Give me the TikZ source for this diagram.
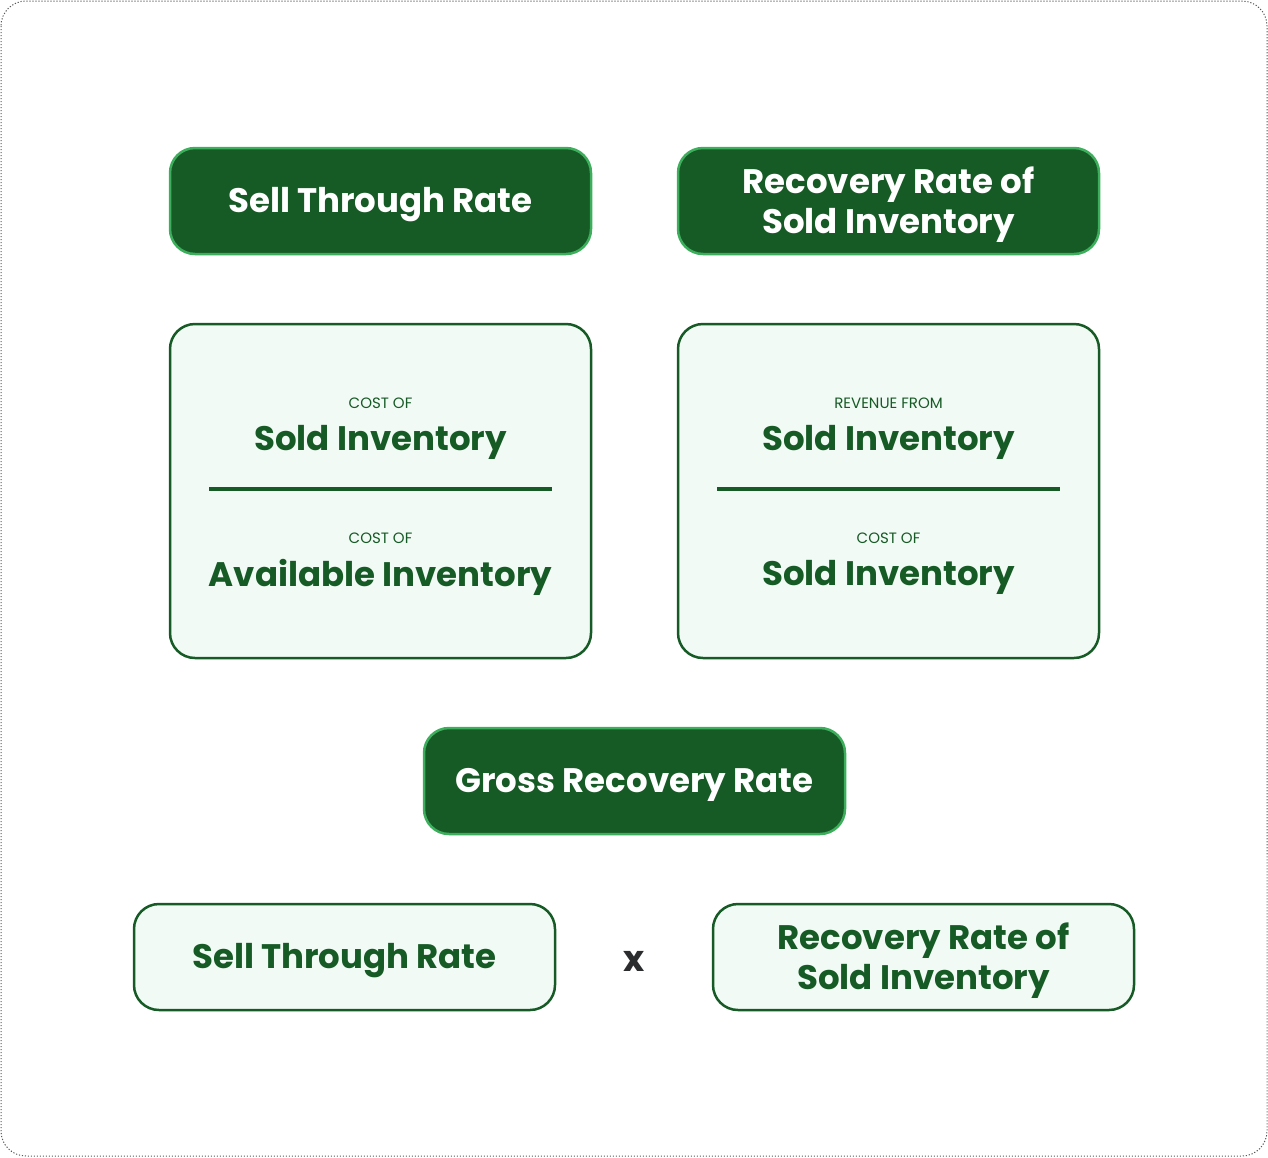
\documentclass[tikz,border=0pt]{standalone}
\usepackage{fontspec}
\setmainfont{Poppins}
\definecolor{dkgreen}{HTML}{165A25}
\definecolor{ltborder}{HTML}{3DAE5C}
\definecolor{ltfill}{HTML}{F1FAF4}
\definecolor{xgray}{HTML}{2A2C2E}
\begin{document}
\begin{tikzpicture}[x=1pt,y=-1pt,
  darkbox/.style={draw=ltborder, line width=2.5pt, fill=dkgreen, rounded corners=25pt, text=white, align=center},
  lightbox/.style={draw=dkgreen, line width=2.5pt, fill=ltfill, rounded corners=25pt, text=dkgreen, align=center},
  biglabel/.style={font=\fontsize{34}{40}\selectfont\bfseries, align=center, inner sep=0pt, yshift=-4pt},
  smalllabel/.style={font=\fontsize{15}{18}\selectfont, text=dkgreen, inner sep=0pt},
  fraclabel/.style={font=\fontsize{34}{40}\selectfont\bfseries, text=dkgreen, inner sep=0pt, yshift=-4pt},
  divider/.style={draw=dkgreen, line width=3.5pt}
]
\useasboundingbox (0,0) rectangle (1268,1157);
\draw[black!65, line width=1pt, dash pattern=on 1.2pt off 1.8pt, rounded corners=25pt] (1,1) rectangle (1267,1156);

% top dark boxes
\path[darkbox] (170,148) rectangle (591,254);
\node[biglabel, text=white] (str) at (380.5,201) {Sell Through Rate};
\path[darkbox] (678,148) rectangle (1099,254);
\node[biglabel, text=white] (rrs) at (888.5,201) {Recovery Rate of\\Sold Inventory};

% fraction boxes
\path[lightbox] (170,324) rectangle (591,658);
\node[smalllabel] (c1) at (380.5,403) {COST OF};
\node[fraclabel] (n1) at (380.5,438) {Sold Inventory};
\coordinate (d1a) at (209,489);
\coordinate (d1b) at (552,489);
\draw[divider] (d1a) -- (d1b);
\node[smalllabel] (c2) at (380.5,538) {COST OF};
\node[fraclabel] (n2) at (380.5,573) {Available Inventory};

\path[lightbox] (678,324) rectangle (1099,658);
\node[smalllabel] (c3) at (888.5,403) {REVENUE FROM};
\node[fraclabel] (n3) at (888.5,438) {Sold Inventory};
\coordinate (d2a) at (717,489);
\coordinate (d2b) at (1060,489);
\draw[divider] (d2a) -- (d2b);
\node[smalllabel] (c4) at (888.5,538) {COST OF};
\node[fraclabel] (n4) at (888.5,573) {Sold Inventory};

% gross recovery rate
\path[darkbox] (424,728) rectangle (845,834);
\node[biglabel, text=white] (grr) at (634.5,781) {Gross Recovery Rate};

% bottom light boxes
\path[lightbox] (134,904) rectangle (555,1010);
\node[biglabel, text=dkgreen] (str2) at (344.5,957) {Sell Through Rate};
\path[lightbox] (713,904) rectangle (1134,1010);
\node[biglabel, text=dkgreen] (rrs2) at (923.5,957) {Recovery Rate of\\Sold Inventory};

\node[font=\fontsize{36}{40}\selectfont\bfseries, text=xgray, inner sep=0pt, yshift=-3pt] (times) at (634,958) {x};
\end{tikzpicture}
\end{document}
